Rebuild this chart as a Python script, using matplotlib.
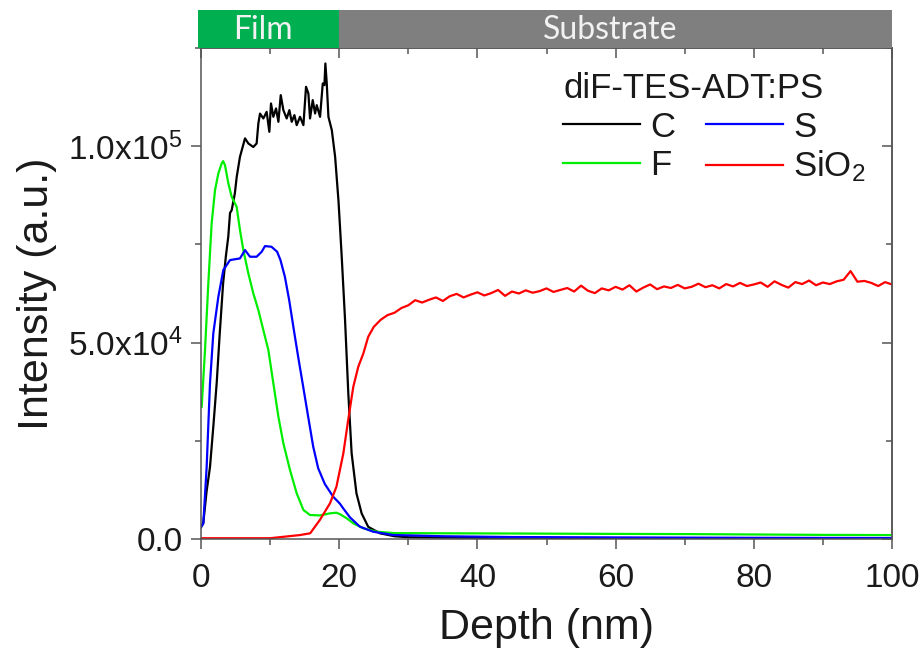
import matplotlib
matplotlib.use("Agg")
import matplotlib.pyplot as plt
from matplotlib.ticker import MultipleLocator, FuncFormatter

plt.rcParams["font.family"] = ["Liberation Sans", "DejaVu Sans"]
plt.rcParams["mathtext.default"] = "regular"

# depth profile data
c_depth = [0.0, 0.33, 0.8, 1.3, 1.8, 2.27, 2.7, 3.2, 3.6, 3.95, 4.2, 4.44, 4.9, 5.17, 5.64,
           6.37, 6.85, 7.57, 8.05, 8.3, 8.54, 9.02, 9.5, 9.89, 10.13, 10.47, 10.86, 11.2,
           11.54, 11.92, 12.4, 12.79, 13.13, 13.52, 13.85, 14.33, 14.82, 15.2, 15.54, 15.78,
           16.17, 16.51, 16.75, 17.23, 17.62, 17.86, 18.0, 18.2, 18.44, 18.93, 19.41, 19.9,
           20.36, 20.84, 21.32, 21.8, 22.5, 23.25, 24.2, 25.9, 28, 30, 35, 40, 45, 60, 80, 100]
c_int = [3000, 4070, 12000, 18300, 29000, 39700, 52000, 65100, 72000, 77000, 83000, 83700,
         88000, 92200, 97300, 102000, 100700, 99800, 100700, 105800, 108300, 107060, 108750,
         103660, 110880, 107480, 109610, 106210, 113000, 109180, 107060, 109180, 106210,
         107910, 105360, 107480, 105360, 115120, 113420, 107060, 111730, 108330, 110450,
         107480, 115970, 115540, 121060, 115970, 107480, 104090, 97300, 86000, 72000, 56000,
         37000, 21800, 11600, 6500, 3100, 1450, 700, 450, 350, 300, 250, 200, 150, 120]

f_depth = [0.1, 0.58, 1.06, 1.54, 2.03, 2.51, 2.99, 3.2, 3.47, 3.96, 4.44, 5.16, 5.64, 6.13,
           6.85, 7.57, 8.3, 9.02, 9.75, 10.47, 11.2, 11.92, 12.88, 13.85, 14.82, 15.78, 17.23,
           18.68, 19.6, 20.13, 21.1, 22.04, 23.5, 25.4, 28, 35, 45, 60, 70, 80, 90, 100]
f_int = [33670, 48100, 65070, 80340, 88820, 93070, 95610, 96200, 95190, 90520, 87120, 84570,
         78640, 73550, 67620, 62530, 58280, 53190, 48100, 39630, 31130, 24360, 17560, 11630,
         7380, 6110, 6000, 6540, 6700, 6300, 5260, 3990, 2720, 1860, 1500, 1450, 1400, 1300,
         1250, 1150, 1050, 1000]

s_depth = [0.0, 0.34, 0.82, 1.3, 1.78, 2.51, 3.23, 4.2, 5.64, 6.37, 7.09, 8.05, 8.78, 9.26,
           10.2, 11.02, 11.5, 12.14, 12.76, 13.44, 14.06, 14.79, 15.51, 16.24, 16.96, 17.92,
           18.67, 19.13, 20.1, 20.58, 21.56, 23, 24.9, 27.8, 35, 45, 60, 80, 100]
s_int = [3000, 3990, 18400, 39620, 52340, 61670, 68460, 71010, 71430, 73550, 71860, 71860,
         73120, 74570, 74400, 73120, 71010, 66760, 60830, 53190, 46400, 38760, 31130, 23500,
         18000, 14000, 12000, 10770, 9000, 7800, 5500, 3130, 1860, 1020, 700, 500, 400, 300, 250]

sio2_depth = [0, 10, 14.3, 15.8, 17.2, 18.67, 19.6, 20.6, 21.3, 22.04, 22.76, 23.5, 24.2,
              25, 26, 27, 28, 29, 30, 31, 32, 33, 34, 35, 36, 37, 38, 39, 40, 41, 42, 43, 44,
              45, 46, 47, 48, 49, 50, 51, 52, 53, 54, 55, 56, 57, 58, 59, 60, 61, 62, 63, 64,
              65, 66, 67, 68, 69, 70, 71, 72, 73, 74, 75, 76, 77, 78, 79, 80, 81, 82, 83, 84,
              85, 86, 87, 88, 89, 90, 91, 92, 93, 94, 95, 96, 97, 98, 99, 100]
sio2_int = [200, 200, 1000, 1450, 4840, 9090, 13310, 21810, 30290, 38760, 43850, 47260, 51490,
            54000, 55800, 57000, 57600, 58800, 59500, 60800, 60200, 60900, 61500, 60600, 61800,
            62400, 61500, 62200, 62800, 62000, 62600, 63400, 61900, 63000, 62500, 63300, 62700,
            63100, 63800, 62900, 63400, 63900, 63000, 64500, 63200, 62600, 63800, 63300, 64200,
            63500, 64600, 63000, 64000, 64800, 63600, 64300, 63900, 64700, 63800, 64200, 65000,
            64100, 64600, 63800, 64900, 64300, 65200, 64400, 64800, 65300, 64200, 65600, 64700,
            64000, 65400, 64900, 65800, 64600, 65300, 64900, 65600, 66000, 68200, 65500, 65700,
            65200, 64400, 65400, 64800]

regions = ["Film", "Substrate"]
region_start = [0, 20]
region_end = [20, 100]
region_colors = ["#00b050", "#7f7f7f"]

W, H = 924, 655
fig = plt.figure(figsize=(W / 100, H / 100), dpi=100)

# main axes box in pixels: left 201, right 892, top 48, bottom 539
ax = fig.add_axes([201 / W, 1 - 539 / H, (892 - 201) / W, (539 - 48) / H])
ax.plot(c_depth, c_int, color="black", lw=1.6, label="C")
ax.plot(f_depth, f_int, color="#00ee00", lw=1.6, label="F")
ax.plot(s_depth, s_int, color="#0000ff", lw=1.6, label="S")
ax.plot(sio2_depth, sio2_int, color="#ff0000", lw=1.6, label="SiO$_2$")

ax.set_xlim(0, 100)
ax.set_ylim(0, 125000)
ax.xaxis.set_major_locator(MultipleLocator(20))
ax.xaxis.set_minor_locator(MultipleLocator(10))
ax.yaxis.set_major_locator(MultipleLocator(50000))
ax.yaxis.set_minor_locator(MultipleLocator(25000))


def sci_fmt(v, pos):
    if v == 0:
        return "0.0"
    exp = len(str(int(v))) - 1
    return f"{v / 10 ** exp:.1f}x10$^{{{exp}}}$"


ax.yaxis.set_major_formatter(FuncFormatter(sci_fmt))

spine_col = "#555555"
for s in ax.spines.values():
    s.set_color(spine_col)
    s.set_linewidth(1.1)
ax.tick_params(which="both", direction="out", colors=spine_col, labelcolor="#1a1a1a",
               width=1.1, labelsize=24)
ax.tick_params(which="major", length=7)
ax.tick_params(which="minor", length=4)
ax.tick_params(axis="x", pad=10)
ax.tick_params(axis="y", pad=6)

# mirrored ticks pointing inward on top and right
sx = ax.secondary_xaxis("top")
sx.xaxis.set_major_locator(MultipleLocator(20))
sx.xaxis.set_minor_locator(MultipleLocator(10))
sx.tick_params(which="both", direction="in", labeltop=False, colors=spine_col, width=1.1)
sx.tick_params(which="major", length=7)
sx.tick_params(which="minor", length=4)
sy = ax.secondary_yaxis("right")
sy.yaxis.set_major_locator(MultipleLocator(50000))
sy.yaxis.set_minor_locator(MultipleLocator(25000))
sy.tick_params(which="both", direction="in", labelright=False, colors=spine_col, width=1.1)
sy.tick_params(which="major", length=7)
sy.tick_params(which="minor", length=4)
for s in list(sx.spines.values()) + list(sy.spines.values()):
    s.set_color(spine_col)
    s.set_linewidth(1.1)

ax.set_xlabel("Depth (nm)", fontsize=31, color="#1a1a1a", labelpad=10)
ax.set_ylabel("Intensity (a.u.)", fontsize=31, color="#1a1a1a", labelpad=8)

leg = ax.legend(ncol=2, title="diF-TES-ADT:PS", frameon=False, loc="upper right",
                bbox_to_anchor=(0.997, 1.0), fontsize=25, title_fontsize=25,
                handlelength=2.2, handletextpad=0.3, columnspacing=0.9,
                labelspacing=0.15, borderpad=0.2, alignment="left")
for t in leg.get_texts():
    t.set_color("#1a1a1a")
leg.get_title().set_color("#1a1a1a")

# film / substrate bar above the plot
bar = fig.add_axes([198 / W, 1 - 48 / H, (892 - 198) / W, 38 / H])
bar.set_xlim(-3 / 6.91, 100)
bar.set_ylim(0, 1)
for name, x0, x1, col in zip(regions, region_start, region_end, region_colors):
    left = x0 if x0 > 0 else -3 / 6.91
    bar.barh(0.5, x1 - left, left=left, height=1, color=col, edgecolor="none")
    bar.text((left + x1) / 2 - 0.8, 0.47, name, ha="center", va="center", fontsize=23,
             color="#f2f2f2", family=["Lato", "DejaVu Sans"])
bar.axis("off")

fig.savefig("out.png", dpi=100)
